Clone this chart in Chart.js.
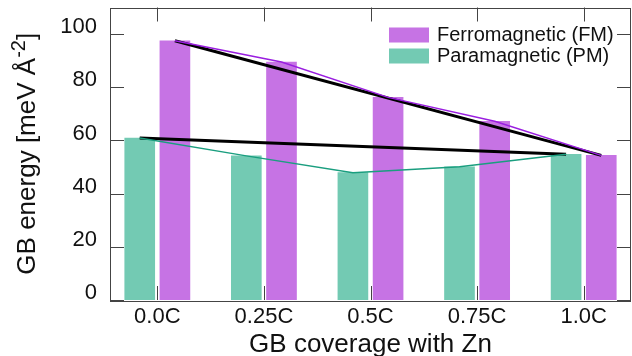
<!DOCTYPE html>
<html>
<head>
<meta charset="utf-8">
<script src="https://cdn.jsdelivr.net/npm/chart.js@4/dist/chart.umd.min.js"></script>
<style>
  html, body { margin: 0; padding: 0; background: #ffffff; overflow: hidden; }
  canvas { display: block; }
</style>
</head>
<body>
<canvas id="chart" width="632" height="356" style="width:632px;height:356px"></canvas>
<script>
// Grain-boundary energy vs. Zn coverage
const categories = ['0.0C', '0.25C', '0.5C', '0.75C', '1.0C'];
const fmEnergy = [97.5, 89.5, 76.2, 67.2, 54.4];   // ferromagnetic
const pmEnergy = [60.9, 54.2, 47.9, 50.1, 54.8];   // paramagnetic
const yTickValues = [0, 20, 40, 60, 80, 100];
const seriesNames = ['Ferromagnetic (FM)', 'Paramagnetic (PM)'];
const xTitle = 'GB coverage with Zn';
const yTitleMain = 'GB energy [meV Å';
const yTitleSup = '-2';
const yTitleTail = ']';

const FONT = "'Liberation Sans', Arial, sans-serif";
const FM_FILL = '#c673e4';
const PM_FILL = '#73cab3';
const FM_LINE = '#9a1ee0';
const PM_LINE = '#1a9e7f';
const FRAME = '#444444';
const BAR_SHIFT = 0.165;   // half-distance between the two bars of a group

const shifted = (values, s) => values.map((v, i) => ({ x: i + s, y: v }));
const ends = (values, s) => {
  const n = values.length - 1;
  return [{ x: s, y: values[0] }, { x: n + s, y: values[n] }];
};

// frame with inward tick marks on all four sides
const framePlugin = {
  id: 'frame',
  afterDatasetsDraw(chart) {
    const { ctx, chartArea: a, scales } = chart;
    const L = 14;
    ctx.save();
    ctx.strokeStyle = FRAME;
    ctx.lineWidth = 1;
    ctx.beginPath();
    categories.forEach((_, i) => {
      const x = Math.round(scales.x.getPixelForValue(i)) + 0.5;
      ctx.moveTo(x, a.bottom); ctx.lineTo(x, a.bottom - L);
      ctx.moveTo(x, a.top); ctx.lineTo(x, a.top + L);
    });
    yTickValues.forEach(v => {
      const y = Math.round(scales.y.getPixelForValue(v)) + 0.5;
      ctx.moveTo(a.left, y); ctx.lineTo(a.left + L, y);
      ctx.moveTo(a.right, y); ctx.lineTo(a.right - L, y);
    });
    ctx.stroke();
    ctx.strokeRect(Math.round(a.left) + 0.5, Math.round(a.top) + 0.5,
                   Math.round(a.right - a.left) - 1, Math.round(a.bottom - a.top));
    ctx.restore();
  }
};

// legend in the upper-right corner of the plot
const legendPlugin = {
  id: 'innerLegend',
  afterDraw(chart) {
    const { ctx } = chart;
    const bars = chart.data.datasets.filter(d => d.type === 'bar');
    ctx.save();
    ctx.font = '20px ' + FONT;
    ctx.textBaseline = 'alphabetic';
    bars.forEach((d, k) => {
      const cy = 35 + k * 21;
      ctx.fillStyle = d.backgroundColor;
      ctx.fillRect(389, cy - 7.5, 40, 15);
      ctx.fillStyle = '#111';
      ctx.fillText(d.label, 437, cy + 5.5);
    });
    ctx.restore();
  }
};

// rotated y-axis title with a superscript exponent
const yTitlePlugin = {
  id: 'yTitle',
  afterDraw(chart) {
    const { ctx, chartArea: a } = chart;
    const big = '26px ' + FONT, small = '20px ' + FONT;
    ctx.save();
    ctx.font = big;
    const w1 = ctx.measureText(yTitleMain).width;
    const w3 = ctx.measureText(yTitleTail).width;
    ctx.font = small;
    const w2 = ctx.measureText(yTitleSup).width;
    const total = w1 + w2 + w3;
    ctx.translate(35, (a.top + a.bottom) / 2);
    ctx.rotate(-Math.PI / 2);
    ctx.fillStyle = '#111';
    ctx.textBaseline = 'alphabetic';
    let x = -total / 2;
    ctx.font = big; ctx.fillText(yTitleMain, x, 0); x += w1;
    ctx.font = small; ctx.fillText(yTitleSup, x, -10); x += w2;
    ctx.font = big; ctx.fillText(yTitleTail, x, 0);
    ctx.restore();
  }
};

new Chart(document.getElementById('chart'), {
  type: 'bar',
  data: {
    datasets: [
      { type: 'line', label: 'FM', data: shifted(fmEnergy, BAR_SHIFT),
        borderColor: FM_LINE, borderWidth: 1.5, pointRadius: 0, tension: 0, order: 1 },
      { type: 'line', label: 'PM', data: shifted(pmEnergy, -BAR_SHIFT),
        borderColor: PM_LINE, borderWidth: 1.5, pointRadius: 0, tension: 0, order: 1 },
      { type: 'line', label: 'FM trend', data: ends(fmEnergy, BAR_SHIFT),
        borderColor: '#000', borderWidth: 3, pointRadius: 0, order: 2 },
      { type: 'line', label: 'PM trend', data: ends(pmEnergy, -BAR_SHIFT),
        borderColor: '#000', borderWidth: 3, pointRadius: 0, order: 2 },
      { type: 'bar', label: seriesNames[0], data: shifted(fmEnergy, BAR_SHIFT),
        backgroundColor: FM_FILL, barThickness: 30, grouped: false, order: 3 },
      { type: 'bar', label: seriesNames[1], data: shifted(pmEnergy, -BAR_SHIFT),
        backgroundColor: PM_FILL, barThickness: 30, grouped: false, order: 3 }
    ]
  },
  options: {
    responsive: false,
    maintainAspectRatio: false,
    animation: false,
    devicePixelRatio: 1,
    layout: { padding: { top: 7.5, right: 1, left: 0, bottom: 0 } },
    plugins: { legend: { display: false }, tooltip: { enabled: false } },
    scales: {
      x: {
        type: 'linear', min: -0.444, max: 4.444, offset: false,
        grid: { display: false, drawTicks: false }, border: { display: false },
        afterBuildTicks: s => { s.ticks = categories.map((_, i) => ({ value: i })); },
        afterFit: s => { s.height = 56; s.paddingLeft = 0; s.paddingRight = 0; },
        ticks: { callback: v => categories[v], padding: 4, color: '#111',
                 font: { family: FONT, size: 22 }, maxRotation: 0, autoSkip: false },
        title: { display: true, text: xTitle, color: '#111', padding: 0,
                 font: { family: FONT, size: 26, lineHeight: 0.85 } }
      },
      y: {
        min: 0, max: 110,
        grid: { display: false, drawTicks: false }, border: { display: false },
        afterBuildTicks: s => { s.ticks = yTickValues.map(v => ({ value: v })); },
        afterFit: s => { s.width = 110; s.paddingTop = 0; s.paddingBottom = 0; },
        ticks: { padding: 13, labelOffset: -7, color: '#111',
                 font: { family: FONT, size: 22 } }
      }
    }
  },
  plugins: [framePlugin, legendPlugin, yTitlePlugin]
});
</script>
</body>
</html>
